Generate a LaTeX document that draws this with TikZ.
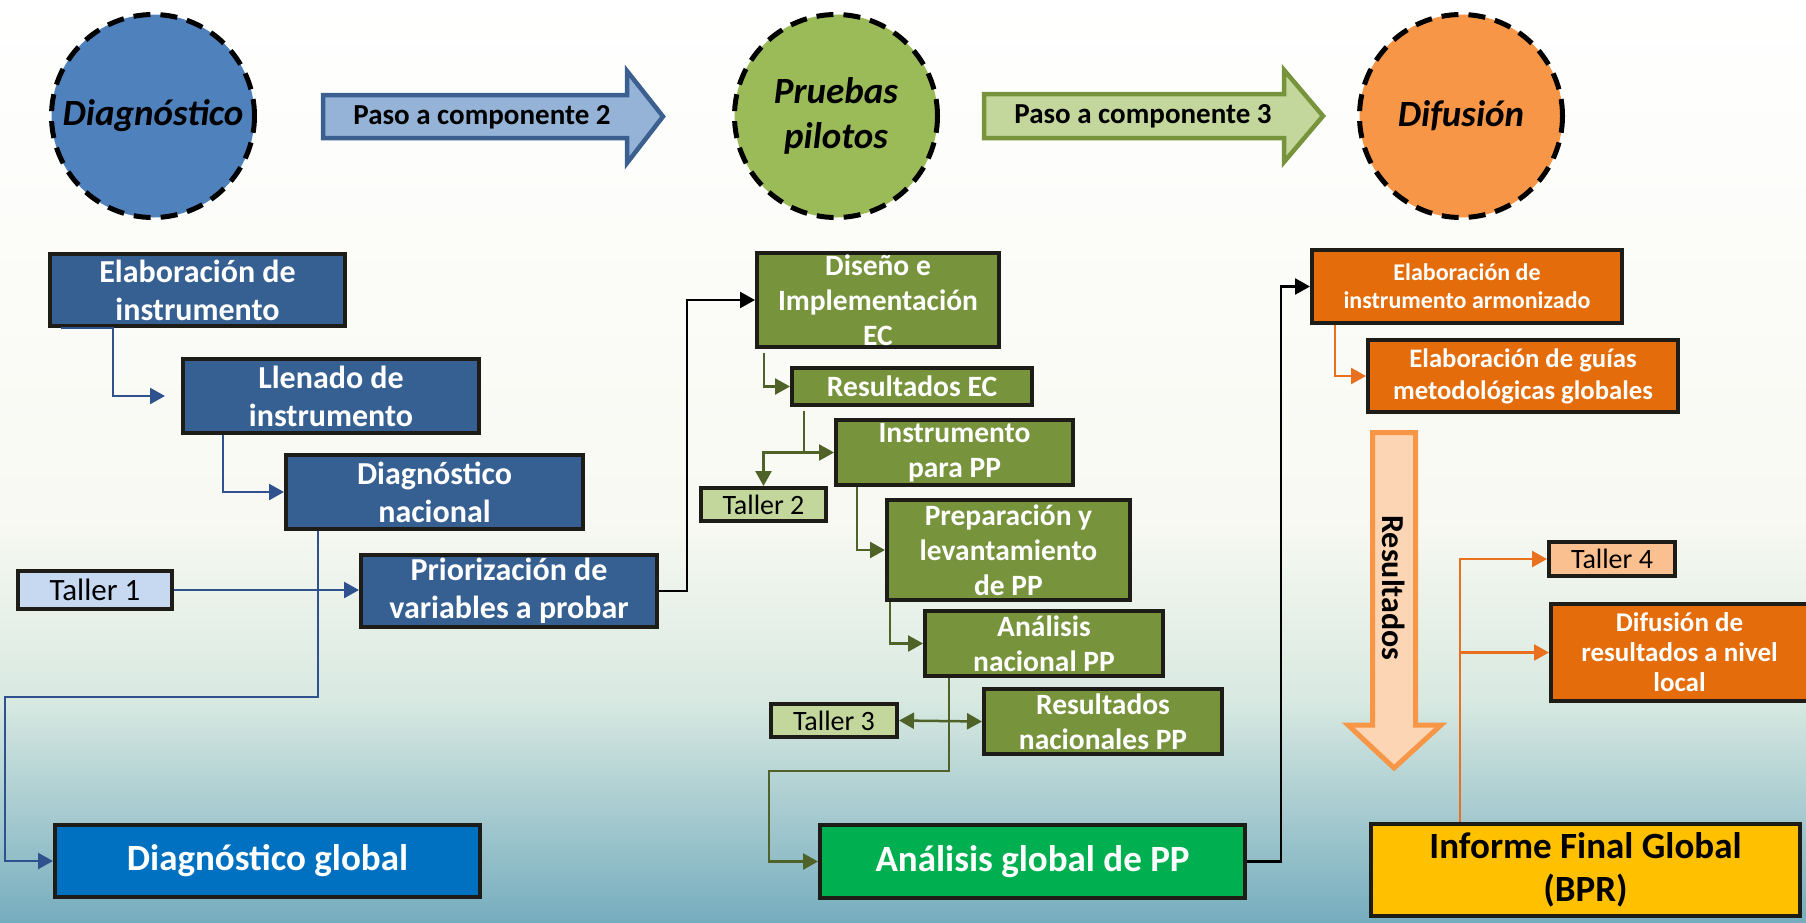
\documentclass[tikz,border=0pt]{standalone}
\usepackage{fontspec}
\setmainfont{Carlito}
\usetikzlibrary{arrows.meta}

\definecolor{boxedge}{RGB}{30,28,22}
\definecolor{azul}{RGB}{55,96,146}
\definecolor{azulclaro}{RGB}{198,217,241}
\definecolor{azulglobal}{RGB}{0,112,192}
\definecolor{azullinea}{RGB}{47,82,143}
\definecolor{verde}{RGB}{119,147,60}
\definecolor{verdeclaro}{RGB}{195,214,155}
\definecolor{verdeglobal}{RGB}{0,176,80}
\definecolor{verdelinea}{RGB}{79,98,40}
\definecolor{naranja}{RGB}{228,108,10}
\definecolor{naranjaclaro}{RGB}{250,192,144}
\definecolor{naranjalinea}{RGB}{232,112,30}
\definecolor{amarillo}{RGB}{255,192,0}
\definecolor{fondoalto}{RGB}{248,249,242}
\definecolor{fondomedio}{RGB}{216,233,225}
\definecolor{fondobajo}{RGB}{118,173,190}

\begin{document}
\begin{tikzpicture}[x=1pt,y=-1pt]
    \tikzset{phase/.style={circle, minimum size=203pt, inner sep=0pt, draw=black, line width=5pt,
                dash pattern=on 17pt off 10pt, align=center, font=\fontsize{37}{45}\selectfont\bfseries\itshape},
            box/.style={draw=boxedge, line width=4pt, inner sep=0pt, align=center, text=white},
            bluebox/.style={box, fill=azul, font=\fontsize{32}{38}\selectfont\bfseries},
            greenbox/.style={box, fill=verde, font=\fontsize{29.5}{35}\selectfont\bfseries},
            orangebox/.style={box, fill=naranja, font=\fontsize{26.7}{32}\selectfont\bfseries},
            bigbox/.style={box, font=\fontsize{37}{43}\selectfont\bfseries},
            tallerbox/.style={box, text=black, font=\fontsize{28}{32}\selectfont},
            link/.style={line width=2.5pt, -{Triangle[length=15pt,width=16pt]}},
            bluelink/.style={link, draw=azullinea},
            greenlink/.style={link, draw=verdelinea},
            orangelink/.style={link, draw=naranjalinea},
            blacklink/.style={link, draw=black}}

    % fondo
    \useasboundingbox (0,0) rectangle (1806,922);
    \shade[top color=white, bottom color=fondoalto] (0,0) rectangle (1806,520);
    \shade[top color=fondoalto, bottom color=fondomedio] (0,520) rectangle (1806,700);
    \shade[top color=fondomedio, bottom color=fondobajo] (0,700) rectangle (1806,922);

    % componentes
    \node[phase, fill={rgb,255:red,79;green,129;blue,189}] (diag) at (153,116) {Diagnóstico};
    \node[phase, fill={rgb,255:red,155;green,187;blue,89}] (pruebas) at (836,116) {Pruebas\\pilotos};
    \node[phase, fill={rgb,255:red,247;green,150;blue,70}] (difusion) at (1461,116) {Difusión};

    \draw[line width=4.5pt, draw={rgb,255:red,59;green,95;blue,143}, fill={rgb,255:red,149;green,179;blue,215}, line join=miter]
        (323,95) -- (627,95) -- (627,71) -- (663,116.5) -- (627,163) -- (627,138) -- (323,138) -- cycle;
    \node[font=\fontsize{29}{34}\selectfont\bfseries] (paso2) at (482,117) {Paso a componente 2};
    \draw[line width=4.5pt, draw=verde, fill=verdeclaro, line join=miter]
        (984,94) -- (1284,94) -- (1284,70) -- (1323,116) -- (1284,162) -- (1284,138) -- (984,138) -- cycle;
    \node[font=\fontsize{29}{34}\selectfont\bfseries] (paso3) at (1143,116) {Paso a componente 3};

    % diagnostico
    \node[bluebox, minimum width=295pt, minimum height=72pt] (elab) at (197.5,290) {Elaboración de\\instrumento};
    \node[bluebox, minimum width=296pt, minimum height=74pt] (llen) at (331,396) {Llenado de\\instrumento};
    \node[bluebox, minimum width=297pt, minimum height=74pt] (diagnac) at (434.5,492) {Diagnóstico\\nacional};
    \node[bluebox, minimum width=296pt, minimum height=72pt] (prior) at (509,591) {Priorización de\\variables a probar};
    \node[tallerbox, fill=azulclaro, font=\fontsize{31}{34}\selectfont, minimum width=154pt, minimum height=38pt] (taller1) at (95,590) {Taller 1};
    \node[bigbox, fill=azulglobal, minimum width=425pt, minimum height=72pt] (diagglob) at (267.5,861) {Diagnóstico global};

    % pruebas pilotos
    \node[greenbox, minimum width=242pt, minimum height=94pt] (diseno) at (878,300) {Diseño e\\Implementación\\EC};
    \node[greenbox, minimum width=240pt, minimum height=37pt] (resec) at (912,386.5) {Resultados EC};
    \node[greenbox, minimum width=237pt, minimum height=65pt] (instr) at (954.5,452.5) {Instrumento\\para PP};
    \node[tallerbox, fill=verdeclaro, minimum width=125pt, minimum height=33pt] (taller2) at (763.5,504.5) {Taller 2};
    \node[greenbox, minimum width=243pt, minimum height=100pt] (prep) at (1008.5,550) {Preparación y\\levantamiento\\de PP};
    \node[greenbox, minimum width=238pt, minimum height=65pt] (anacional) at (1044,643.5) {Análisis\\nacional PP};
    \node[greenbox, minimum width=238pt, minimum height=65pt] (resnac) at (1103,721.5) {Resultados\\nacionales PP};
    \node[tallerbox, fill=verdeclaro, minimum width=126pt, minimum height=33pt] (taller3) at (834,720.5) {Taller 3};
    \node[bigbox, fill=verdeglobal, minimum width=425pt, minimum height=73pt] (aglobal) at (1032.5,861.5) {Análisis global de PP};

    % difusion
    \node[orangebox, font=\fontsize{24}{28}\selectfont\bfseries, minimum width=310pt, minimum height=73pt] (elabarm) at (1467,286.5) {Elaboración de\\instrumento armonizado};
    \node[orangebox, minimum width=310pt, minimum height=72pt] (guias) at (1523,376) {Elaboración de guías\\metodológicas globales};
    \draw[line width=5pt, draw={rgb,255:red,247;green,150;blue,70}, fill={rgb,255:red,252;green,213;blue,181}, line join=miter]
        (1372.5,432.5) -- (1415.5,432.5) -- (1415.5,725) -- (1441,725) -- (1394,768) -- (1348,725) -- (1372.5,725) -- cycle;
    \node[rotate=-90, font=\fontsize{32}{38}\selectfont\bfseries] (resultados) at (1394,588) {Resultados};
    \node[tallerbox, fill=naranjaclaro, minimum width=126pt, minimum height=34pt] (taller4) at (1612,559) {Taller 4};
    \node[orangebox, font=\fontsize{27}{30}\selectfont\bfseries, minimum width=257pt, minimum height=97pt] (difloc) at (1679.5,652.5) {Difusión de\\resultados a nivel\\local};
    \node[bigbox, fill=amarillo, text=black, minimum width=429pt, minimum height=92pt] (informe) at (1585.5,870) {Informe Final Global\\(BPR)};

    % conectores
    \draw[bluelink] ([xshift=13pt]elab.south west) -- ++(52,0) |- ([xshift=-16pt]llen.west);
    \draw[bluelink] ([xshift=42pt]llen.south west) |- (diagnac.west);
    \draw[bluelink] ([xshift=34pt]diagnac.south west) -- ++(0,166) -- ++(-313,0) |- (diagglob.west);
    \draw[bluelink] (taller1.east) -- (taller1.east -| prior.west);
    \draw[blacklink] (prior.east) -- ++(28,0) |- (diseno.west);

    \draw[greenlink] ([xshift=9pt,yshift=-4pt]diseno.south west) |- (resec.west);
    \draw[greenlink] ([xshift=14pt,yshift=-4pt]resec.south west) |- (instr.west);
    \draw[greenlink] ([xshift=14pt]resec.south west |- instr.west) -| (taller2.north);
    \draw[greenlink] ([xshift=23pt]instr.south west) |- (prep.west);
    \draw[greenlink] ([xshift=5pt]prep.south west) |- (anacional.west);
    \draw[greenlink] ([xshift=26pt]anacional.south west) -- ++(0,93) -- ++(-180,0) |- (aglobal.west);
    \draw[greenlink, {Triangle[length=15pt,width=16pt]}-{Triangle[length=15pt,width=16pt]}] (taller3.east) -- (resnac.west);
    \draw[blacklink] (aglobal.east) -- ++(34,0) |- (elabarm.west);

    \draw[orangelink] ([xshift=25pt]elabarm.south west) |- (guias.west);
    \draw[orangelink] ([xshift=91pt]informe.north west) |- (taller4.west);
    \draw[orangelink] ([xshift=91pt]informe.north west |- difloc.west) -- (difloc.west);
\end{tikzpicture}
\end{document}
